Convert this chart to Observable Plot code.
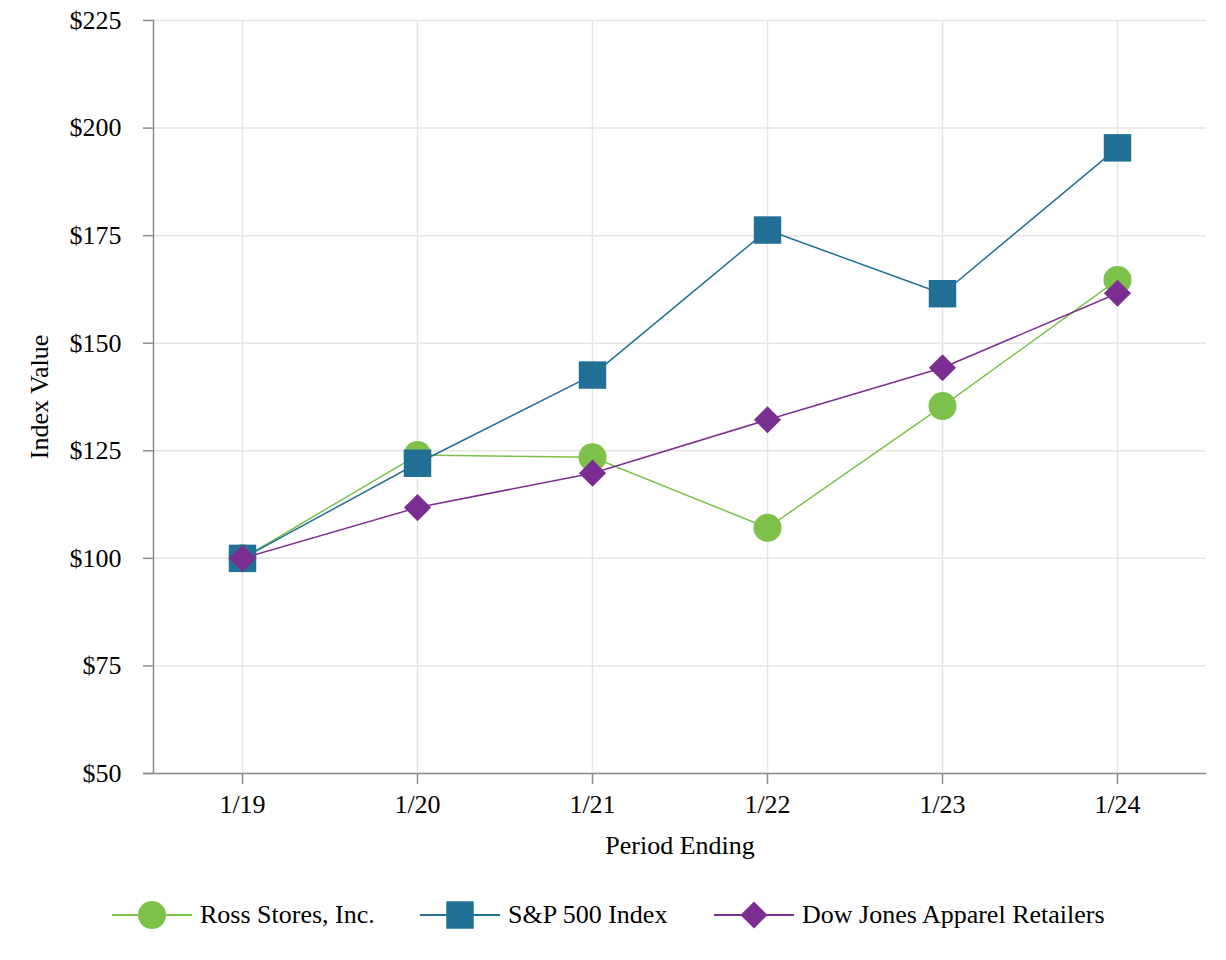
<!DOCTYPE html>
<html>
<head>
<meta charset="utf-8">
<script src="https://cdn.jsdelivr.net/npm/d3@7"></script>
<script src="https://cdn.jsdelivr.net/npm/@observablehq/plot@0.6"></script>
<style>
  html, body { margin: 0; padding: 0; background: #fff; }
  body { width: 1226px; height: 960px; font-family: "Liberation Serif", "Times New Roman", serif; }
  #legend { position: relative; width: 1226px; height: 70px; }
  .item { position: absolute; top: 0; height: 70px; display: flex; align-items: center; font-size: 26px; color: #000; }
  .item span { margin-left: 8px; }
</style>
</head>
<body>
<div id="chart"></div>
<div id="legend"></div>
<script>
const periods = ["1/19", "1/20", "1/21", "1/22", "1/23", "1/24"];
const seriesNames = ["Ross Stores, Inc.", "S&P 500 Index", "Dow Jones Apparel Retailers"];
const ross = [100, 124.0, 123.5, 107.1, 135.4, 164.7];
const sp500 = [100, 122.1, 142.6, 176.3, 161.5, 195.4];
const djApparel = [100, 111.8, 119.8, 132.2, 144.3, 161.6];
const yTicks = [50, 75, 100, 125, 150, 175, 200, 225];
const colors = ["#7dc14b", "#237096", "#7c2d91"];
const symbols = ["circle", "square", "diamond2"];
const symbolR = [14, 15.5, 12.2];

const seriesValues = [ross, sp500, djApparel];
const data = seriesNames.flatMap((name, i) =>
  periods.map((p, j) => ({series: name, period: p, value: seriesValues[i][j]}))
);

const font = "Liberation Serif, Times New Roman, serif";
const axisGray = "#8c8c8c";
const gridGray = "#e6e6e6";

const seriesMarks = seriesNames.flatMap((name, i) => {
  const d = data.filter(r => r.series === name);
  return [
    Plot.line(d, {x: "period", y: "value", stroke: colors[i], strokeWidth: 1.5}),
    Plot.dot(d, {x: "period", y: "value", fill: colors[i], stroke: "none", symbol: () => symbols[i], r: symbolR[i]})
  ];
});

const chart = Plot.plot({
  width: 1226,
  height: 880,
  marginLeft: 153,
  marginRight: 20,
  marginTop: 20,
  marginBottom: 107,
  style: {fontFamily: font, fontSize: "26px", color: "#000", background: "#fff"},
  x: {type: "point", domain: periods, padding: 0.5},
  y: {domain: [50, 225]},
  symbol: {type: "identity"},
  marks: [
    Plot.gridY(yTicks, {stroke: gridGray, strokeOpacity: 1, strokeWidth: 1.5}),
    Plot.gridX(periods, {stroke: gridGray, strokeOpacity: 1, strokeWidth: 1.5}),
    Plot.frame({anchor: "left", stroke: axisGray, strokeWidth: 1.5}),
    Plot.ruleY([50], {stroke: axisGray, strokeWidth: 1.5, insetLeft: -10}),
    Plot.axisY(yTicks, {tickSize: 10, tickPadding: 22, tickFormat: d => "$" + d, stroke: axisGray, strokeWidth: 1.5, fill: "#000", fontSize: 26, fontFamily: font, label: null}),
    Plot.axisX(periods, {tickSize: 11, tickPadding: 10, stroke: axisGray, strokeWidth: 1.5, fill: "#000", fontSize: 26, fontFamily: font, label: null}),
    Plot.text(["Index Value"], {frameAnchor: "left", dx: -114, rotate: -90, fontSize: 26, fontFamily: font, fill: "#000", textAnchor: "middle", lineAnchor: "middle"}),
    Plot.text(["Period Ending"], {frameAnchor: "bottom", dy: 72, fontSize: 26, fontFamily: font, fill: "#000", textAnchor: "middle", lineAnchor: "middle"}),
    ...seriesMarks
  ]
});
document.getElementById("chart").appendChild(chart);

// Legend (HTML below the SVG)
const legend = document.getElementById("legend");
const lefts = [112, 420, 714];
const symbolPath = [
  d3.symbol(d3.symbolCircle, Math.PI * symbolR[0] * symbolR[0]),
  d3.symbol(d3.symbolSquare, Math.PI * symbolR[1] * symbolR[1]),
  d3.symbol(d3.symbolDiamond2, Math.PI * symbolR[2] * symbolR[2])
];
seriesNames.forEach((name, i) => {
  const item = document.createElement("div");
  item.className = "item";
  item.style.left = lefts[i] + "px";
  const svg = d3.create("svg").attr("width", 80).attr("height", 32);
  svg.append("line").attr("x1", 0).attr("x2", 80).attr("y1", 16).attr("y2", 16)
    .attr("stroke", colors[i]).attr("stroke-width", 2);
  svg.append("path").attr("d", symbolPath[i]()).attr("transform", "translate(40,16)")
    .attr("fill", colors[i]);
  item.appendChild(svg.node());
  const span = document.createElement("span");
  span.textContent = name;
  item.appendChild(span);
  legend.appendChild(item);
});
</script>
</body>
</html>
